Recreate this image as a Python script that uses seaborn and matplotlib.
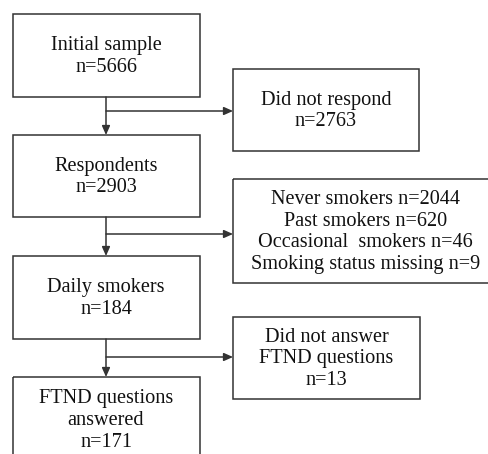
import matplotlib
matplotlib.use("Agg")
import matplotlib.pyplot as plt
import seaborn as sns
from matplotlib.patches import Rectangle

# Flow chart content
stage_labels = ["Initial sample", "Respondents", "Daily smokers", "FTND questions\nanswered"]
stage_counts = [5666, 2903, 184, 171]
excluded_labels = ["Did not respond", "", "Did not answer\nFTND questions"]
excluded_breakdown = ["Never smokers", "Past smokers", "Occasional  smokers", "Smoking status missing"]
excluded_breakdown_counts = [2044, 620, 46, 9]
excluded_counts = [2763, None, 13]

sns.set_theme(style="white")
plt.rcParams['font.family'] = ['Liberation Serif', 'DejaVu Serif']

fig = plt.figure(figsize=(4.89, 4.54), dpi=100)
ax = fig.add_axes([0, 0, 1, 1])
ax.set_xlim(0, 489)
ax.set_ylim(454, 0)
ax.axis('off')

edge = '#333333'
fs = 14.6

# layout (pixels): main column boxes and side boxes
main_x0, main_x1 = 12.5, 199.5
main_y = [(14, 97), (135, 217), (256, 339), (377, 462)]
side_boxes = [(233, 419, 69, 151), (233, 498, 179, 283), (233, 420, 317, 399)]
branch_y = [111, 234, 357]
cx = (main_x0 + main_x1) / 2


def box(x0, x1, y0, y1, text):
    ax.add_patch(Rectangle((x0, y0), x1 - x0, y1 - y0, fill=False,
                           edgecolor=edge, linewidth=1.1, clip_on=False))
    ax.text((x0 + x1) / 2, (y0 + y1) / 2 + 1, text, ha='center', va='center',
            fontsize=fs, color='#111111', linespacing=1.2)


for (y0, y1), lab, n in zip(main_y, stage_labels, stage_counts):
    box(main_x0, main_x1, y0, y1, f"{lab}\nn={n}")

side_texts = [
    f"{excluded_labels[0]}\nn={excluded_counts[0]}",
    "\n".join(f"{l} n={c}" for l, c in zip(excluded_breakdown, excluded_breakdown_counts)),
    f"{excluded_labels[2]}\nn={excluded_counts[2]}",
]
for (x0, x1, y0, y1), t in zip(side_boxes, side_texts):
    box(x0, x1, y0, y1, t)

arrow = dict(arrowstyle='-|>,head_length=0.45,head_width=0.2', color=edge,
             linewidth=1.1, shrinkA=0, shrinkB=0)
for i in range(3):
    ax.annotate('', xy=(cx, main_y[i + 1][0]), xytext=(cx, main_y[i][1]), arrowprops=arrow)
    ax.annotate('', xy=(side_boxes[i][0], branch_y[i]), xytext=(cx, branch_y[i]), arrowprops=arrow)

fig.savefig('out.png', dpi=100, facecolor='white')
